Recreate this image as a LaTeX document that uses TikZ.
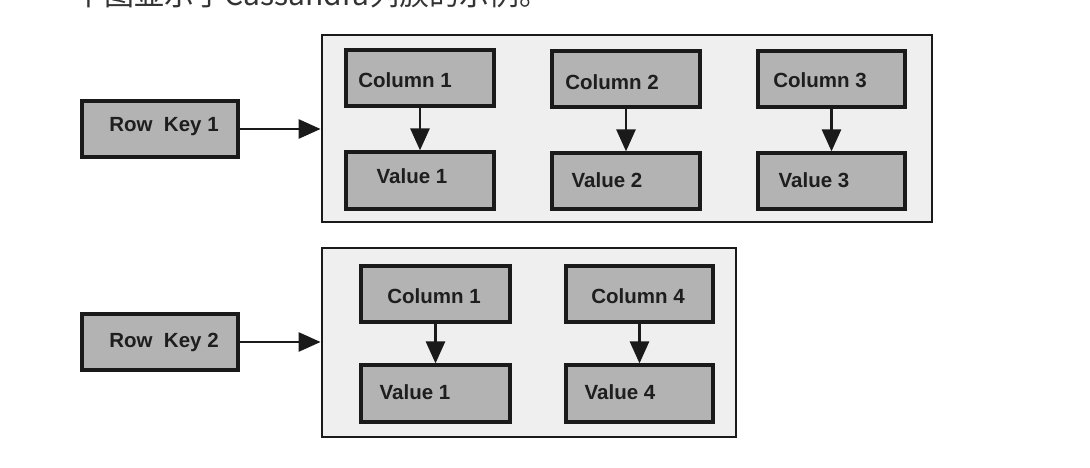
\documentclass[tikz,border=0pt]{standalone}
\usepackage{fontspec}
\setmainfont{Liberation Sans}
\newfontfamily\cjkfont{Noto Sans CJK SC}
\usetikzlibrary{arrows.meta}
\definecolor{boxgray}{HTML}{B3B3B3}
\definecolor{panelgray}{HTML}{EFEFEF}
\definecolor{edgecol}{HTML}{1A1A1A}
\definecolor{txtcol}{HTML}{1E1E1E}
\begin{document}
\begin{tikzpicture}[x=1pt,y=-1pt,
  cell/.style={draw=edgecol, line width=3.2pt, fill=boxgray, inner sep=0pt},
  panelbox/.style={draw=edgecol, line width=2.8pt, fill=panelgray, inner sep=0pt},
  lbl/.style={font=\bfseries\fontsize{20.5}{24}\selectfont, text=txtcol, inner sep=0pt, anchor=base},
  arr/.style={draw=edgecol, line width=2.8pt, -{Triangle[length=22pt,width=19pt]}}]
\useasboundingbox[fill=white] (0,0) rectangle (1090,468);
% clipped title line
\node[anchor=base west, font=\cjkfont\fontsize{30}{30}\selectfont, text=black!80, inner sep=0pt] (title) at (74,5.5) {下图显示了Cassandra列族的示例。};
% panels
\node[panelbox, minimum width=610pt, minimum height=187pt] (p1) at (627,128.5) {};
\node[panelbox, minimum width=414pt, minimum height=189pt] (p2) at (529,342.5) {};
% row keys
\node[cell, minimum width=156pt, minimum height=56pt] (rk1) at (160,129) {};
\node[cell, minimum width=156pt, minimum height=56pt] (rk2) at (160,342) {};
% columns and values, family 1
\node[cell, minimum width=148pt, minimum height=56pt] (c1) at (420,78) {};
\node[cell, minimum width=148pt, minimum height=57pt] (v1) at (420,180.5) {};
\node[cell, minimum width=148pt, minimum height=56pt] (c2) at (626,79) {};
\node[cell, minimum width=148pt, minimum height=56pt] (v2) at (626,181) {};
\node[cell, minimum width=147pt, minimum height=56pt] (c3) at (831.5,79) {};
\node[cell, minimum width=147pt, minimum height=56pt] (v3) at (831.5,181) {};
% family 2
\node[cell, minimum width=149pt, minimum height=56pt] (c1b) at (435.5,294) {};
\node[cell, minimum width=149pt, minimum height=57pt] (v1b) at (435.5,393.5) {};
\node[cell, minimum width=147pt, minimum height=56pt] (c4) at (639.5,294) {};
\node[cell, minimum width=147pt, minimum height=57pt] (v4) at (639.5,393.5) {};
% labels
\node[lbl] (trk1) at (164,132) {Row\ \ Key 1};
\node[lbl] (trk2) at (164,347) {Row\ \ Key 2};
\node[lbl] (tc1) at (405,88) {Column 1};
\node[lbl] (tv1) at (412,183) {Value 1};
\node[lbl] (tc2) at (612,90) {Column 2};
\node[lbl] (tv2) at (607,187) {Value 2};
\node[lbl] (tc3) at (820,88) {Column 3};
\node[lbl] (tv3) at (814,187) {Value 3};
\node[lbl] (tc1b) at (434,303) {Column 1};
\node[lbl] (tv1b) at (415,399) {Value 1};
\node[lbl] (tc4) at (638,303) {Column 4};
\node[lbl] (tv4) at (620,399) {Value 4};
% arrows
\draw[arr] (rk1.east) -- (rk1.east -| p1.west);
\draw[arr] (rk2.east) -- (rk2.east -| p2.west);
\draw[arr] (c1.south) -- (v1.north);
\draw[arr] (c2.south) -- (v2.north);
\draw[arr] (c3.south) -- (v3.north);
\draw[arr] (c1b.south) -- (v1b.north);
\draw[arr] (c4.south) -- (v4.north);
\end{tikzpicture}
\end{document}
